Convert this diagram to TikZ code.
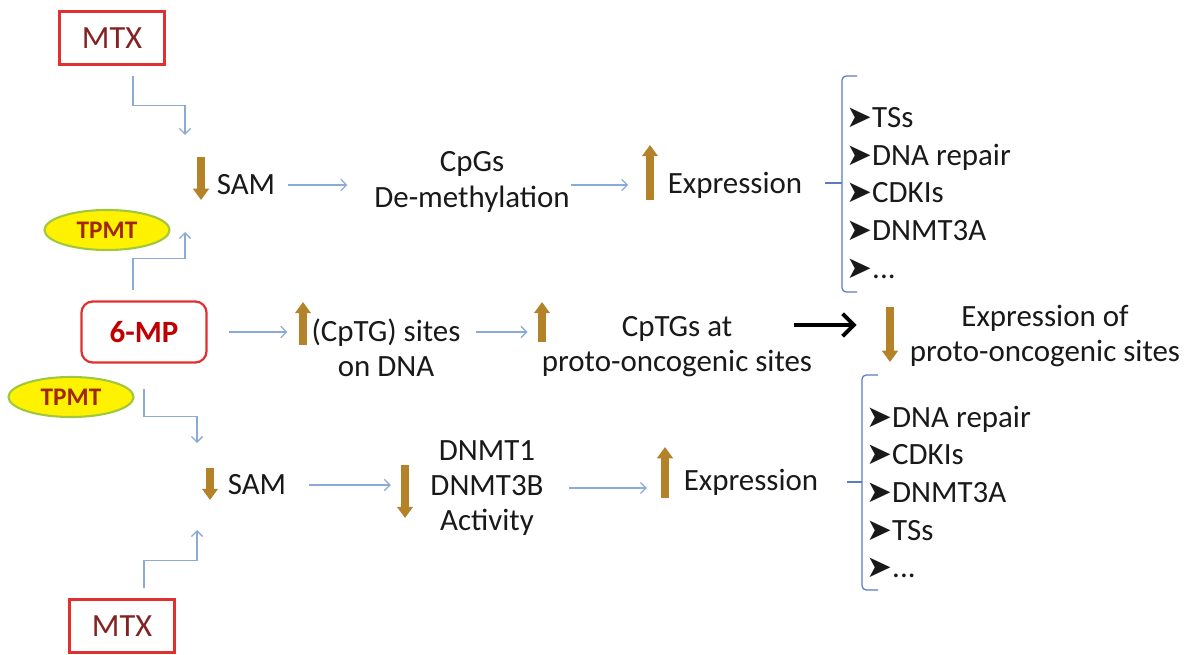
\documentclass[tikz,border=0pt]{standalone}
\usepackage{fontspec}
\setmainfont{Carlito}
\newfontfamily\dingfont{DejaVu Sans}
\usetikzlibrary{arrows.meta,shapes.geometric}

\definecolor{boxred}{RGB}{226,48,48}
\definecolor{mtxred}{RGB}{130,35,35}
\definecolor{mpred}{RGB}{192,0,0}
\definecolor{tpmtred}{RGB}{160,40,0}
\definecolor{limegreen}{RGB}{160,200,60}
\definecolor{flowblue}{RGB}{140,170,215}
\definecolor{braceblue}{RGB}{90,125,190}
\definecolor{goldbrown}{RGB}{180,130,40}
\definecolor{inkgray}{RGB}{25,25,25}

\newcommand{\bul}{{\dingfont\fontsize{22}{20}\selectfont\char"27A4}}

\begin{document}
\begin{tikzpicture}[x=0.025cm, y=-0.025cm,
    every node/.style={font=\fontsize{22}{25}\selectfont, text=inkgray, align=center, inner sep=0pt},
    drug/.style={draw=boxred, line width=1.6pt, minimum width=2.625cm, minimum height=1.325cm, text=mtxred, font=\fontsize{23}{25}\selectfont},
    enzyme/.style={ellipse, draw=limegreen, fill=yellow, line width=1.5pt, minimum width=3.125cm, minimum height=1cm, text=tpmtred, font=\fontsize{18}{18}\selectfont\bfseries},
    flow/.style={draw=flowblue, line width=0.9pt, -{Straight Barb[length=4pt,width=8pt]}},
    updown/.style={draw=goldbrown, line width=5pt, -{Triangle[width=11pt,length=8pt]}},
    bigarrow/.style={draw=black, line width=2.8pt, -{Straight Barb[length=8pt,width=16pt]}},
    brace/.style={draw=braceblue, line width=0.9pt, rounded corners=3pt},
    list/.style={anchor=west, align=left, font=\fontsize{22}{26.7}\selectfont}]
      \useasboundingbox (0,0) rectangle (1189,655);

      % Nodes
      \node[drug] (mtxtop) at (112,38) {MTX};
      \node[drug, rounded corners=8pt, minimum width=3.125cm, minimum height=1.525cm, text=mpred, font=\fontsize{22}{26}\selectfont\bfseries] (mp) at (144,332) {6-MP};
      \node[drug] (mtxbot) at (122,626) {MTX};
      \node[enzyme] (tpmttop) at (107,230) {TPMT};
      \node[enzyme] (tpmtbot) at (71,397) {TPMT};

      \node (samtop) at (246,185) {SAM};
      \node (demeth) at (472,182) {CpGs\\De-methylation};
      \node (exprtop) at (735,185) {Expression};
      \node[list] (genestop) at (846,193) {\bul TSs\\\bul DNA repair\\\bul CDKIs\\\bul DNMT3A\\\bul ...};

      \node (sites) at (386,348) {(CpTG) sites\\on DNA};
      \node (oncosites) at (677,347) {CpTGs at\\proto-oncogenic sites};
      \node (oncoexpr) at (1045,336) {Expression of\\proto-oncogenic sites};

      \node (sambot) at (257,485) {SAM};
      \node (dnmt) at (487,488) {DNMT1\\DNMT3B\\Activity};
      \node (exprbot) at (751,482) {Expression};
      \node[list] (genesbot) at (866,492) {\bul DNA repair\\\bul CDKIs\\\bul DNMT3A\\\bul TSs\\\bul ...};

      \coordinate (samtopin) at (185,135);
      \coordinate (samtopup) at (185,232);
      \coordinate (sambotin) at (197,443);
      \coordinate (sambotup) at (197,530);

      % Up and down
      \draw[updown] (201,157) -- (201,200);
      \draw[updown] (650,200) -- (650,145);
      \draw[updown] (303,345) -- (303,302);
      \draw[updown] (542,342) -- (542,302);
      \draw[updown] (890,307) -- (890,362);
      \draw[updown] (210,468) -- (210,500);
      \draw[updown] (405,465) -- (405,518);
      \draw[updown] (665,498) -- (665,447);

      % Edges
      \draw[flow] ([shift={(21,10)}]mtxtop.south) -- ++(0,30) -| (samtopin);
      \draw[flow] ([shift={(-11,-10)}]mp.north) -- ++(0,-32) -| (samtopup);
      \draw[flow] ([shift={(0,25)}]mp.south) -- ++(0,28) -| (sambotin);
      \draw[flow] ([shift={(22,-10)}]mtxbot.north) -- ++(0,-28) -| (sambotup);

      \draw[flow, shorten <=9pt, shorten >=19pt] (samtop.east) -- (demeth.west |- samtop.east);
      \draw[flow, shorten <=1pt, shorten >=28pt] (demeth.east |- exprtop.west) -- (exprtop.west);
      \draw[flow, shorten <=15pt, shorten >=17pt] (mp.east) -- (sites.west |- mp.east);
      \draw[flow, shorten <=10.5pt, shorten >=10pt] (sites.east |- mp.east) -- (oncosites.west |- mp.east);
      \draw[bigarrow] ([shift={(-18,-22)}]oncosites.east) -- ([shift={(-53,-11)}]oncoexpr.west);
      \draw[flow, shorten <=16pt, shorten >=28pt] (sambot.east) -- (dnmt.west |- sambot.east);
      \draw[flow, shorten <=18pt, shorten >=26pt] (dnmt.east) -- (dnmt.east -| exprbot.west);

      % Brackets
      \draw[brace] (857,76) -- (842,76) -- (842,292) -- (857,292);
      \draw[brace] (825,183) -- (842,183);
      \draw[brace] (878,375) -- (862,375) -- (862,590) -- (878,590);
      \draw[brace] (847,482) -- (862,482);
    \end{tikzpicture}
\end{document}
